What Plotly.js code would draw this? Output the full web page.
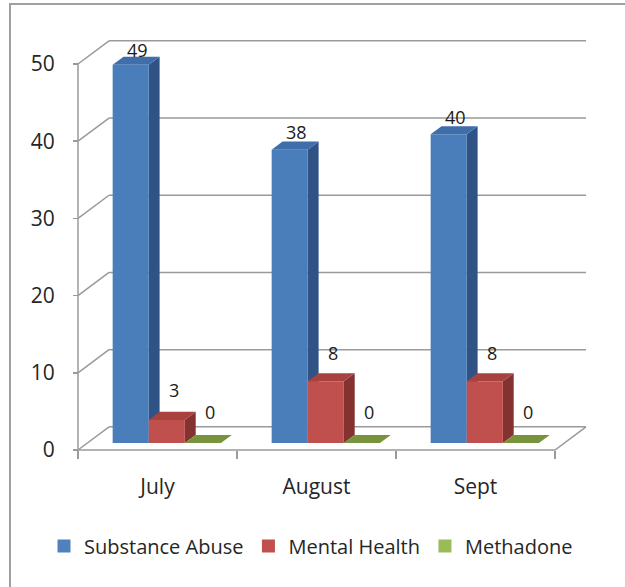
<!DOCTYPE html>
<html>
<head>
<meta charset="utf-8">
<script src="https://cdn.plot.ly/plotly-3.0.1.min.js"></script>
<style>
  html, body { margin: 0; padding: 0; background: #ffffff; }
  #wrap { position: relative; width: 625px; height: 587px; overflow: hidden; }
  #chart { position: absolute; left: 0; top: 0; width: 625px; height: 587px; }
  #frame { position: absolute; left: 9px; top: 3px; width: 700px; height: 700px;
           border: 2px solid #a0a0a0; pointer-events: none; z-index: 5; }
</style>
</head>
<body>
<div id="wrap">
  <div id="chart"></div>
  <div id="frame"></div>
</div>
<script>
// ---- data ----
const categories = ['July', 'August', 'Sept'];
const seriesNames = ['Substance Abuse', 'Mental Health', 'Methadone'];
const substanceAbuse = [49, 38, 40];
const mentalHealth = [3, 8, 8];
const methadone = [0, 0, 0];
const yTickValues = [0, 10, 20, 30, 40, 50];

// ---- styling ----
const seriesValues = [substanceAbuse, mentalHealth, methadone];
const frontColors = ['#4A7EBB', '#C0504D', '#9BBB59'];
const topColors   = ['#3F6EAB', '#A8423F', '#77933C'];
const sideColors  = ['#2F5385', '#833230', '#5E7630'];
const legendColors = ['#4F81BD', '#C0504D', '#9BBB59'];
const gridColor = '#9a9a9a';
const FONT = 'Open Sans, Noto Sans, sans-serif';

// 3D projection (oblique) parameters in data units
const DX = 0.195, DY = 3.0;          // wall depth
const D0 = 0.30, D1 = 0.65;          // bar depth span (fraction of wall depth)
const W = 0.227;                      // bar width (category units)
const GAP = (1 - 3 * W) / 2;
const nCat = categories.length;
const yMaxTick = yTickValues[yTickValues.length - 1];

function P(cx, v, d) { return [cx + d * DX, v + d * DY]; }

// pixel mapping
const PX_PER_X = 159, PX_PER_Y = 7.72;
const X0PX = 78, Y0PX = 450;
const L = 0, R = 625, T = 36, B = 453;
const xmin = -(X0PX - L) / PX_PER_X, xmax = xmin + (R - L) / PX_PER_X;
const ymin = -(B - Y0PX) / PX_PER_Y, ymax = ymin + (B - T) / PX_PER_Y;

const traces = [];
function lineTrace(pts) {
  const x = [], y = [];
  pts.forEach(p => { if (p === null) { x.push(null); y.push(null); } else { x.push(p[0]); y.push(p[1]); } });
  traces.push({ type: 'scatter', mode: 'lines', x, y, showlegend: false, hoverinfo: 'skip',
    line: { color: gridColor, width: 1.5 } });
}
// back wall gridlines
let g = [];
yTickValues.forEach(t => { g.push(P(0, t, 1), P(nCat, t, 1), null); });
lineTrace(g);
// left wall diagonals
g = [];
yTickValues.forEach(t => { g.push(P(0, t, 0), P(0, t, 1), null); });
lineTrace(g);
// floor front edge and right edge, front vertical axis
lineTrace([P(0, 0, 0), P(nCat, 0, 0), P(nCat, 0, 1), null, P(0, 0, 0), P(0, yMaxTick, 0)]);

// bars
function polyTrace(polys, color) {
  const x = [], y = [];
  polys.forEach(poly => { poly.forEach(p => { x.push(p[0]); y.push(p[1]); }); x.push(null); y.push(null); });
  traces.push({ type: 'scatter', mode: 'lines', x, y, fill: 'toself', fillcolor: color,
    line: { width: 0, color: color }, showlegend: false, hoverinfo: 'skip' });
}
const annotations = [];
for (let s = 0; s < seriesValues.length; s++) {
  const sides = [], tops = [], fronts = [];
  seriesValues[s].forEach((v, i) => {
    const x0 = i + GAP + s * W, x1 = x0 + W;
    sides.push([P(x1, 0, D0), P(x1, 0, D1), P(x1, v, D1), P(x1, v, D0)]);
    tops.push([P(x0, v, D0), P(x1, v, D0), P(x1, v, D1), P(x0, v, D1)]);
    fronts.push([P(x0, 0, D0), P(x1, 0, D0), P(x1, v, D0), P(x0, v, D0)]);
    const c = P((x0 + x1) / 2, v, (D0 + D1) / 2);
    const back = P((x0 + x1) / 2, v, D1);
    annotations.push({ x: c[0] + 0.01, y: back[1], xref: 'x', yref: 'y', text: String(v),
      showarrow: false, xanchor: 'center', yanchor: 'middle',
      yshift: 6 + 17 * (1 - v / yMaxTick),
      font: { family: FONT, size: 18, color: '#1a1a1a' } });
  });
  polyTrace(sides, sideColors[s]);
  polyTrace(tops, topColors[s]);
  polyTrace(fronts, frontColors[s]);
}
// legend entries
seriesNames.forEach((n, s) => {
  traces.push({ type: 'scatter', mode: 'markers', x: [null], y: [null], name: n,
    marker: { symbol: 'square', size: 13, color: legendColors[s] }, hoverinfo: 'skip' });
});

const catCenters = categories.map((c, i) => i + 0.5);
const layout = {
  width: 625, height: 587,
  margin: { l: L, r: 625 - R, t: T, b: 587 - B, pad: 0, autoexpand: false },
  paper_bgcolor: 'rgba(0,0,0,0)', plot_bgcolor: 'rgba(0,0,0,0)',
  hovermode: false,
  showlegend: true,
  legend: { orientation: 'h', xref: 'container', yref: 'container', x: 44 / 625, xanchor: 'left',
    y: 1 - 546 / 587, yanchor: 'middle', font: { family: FONT, size: 20, color: '#262626' },
    itemwidth: 30, traceorder: 'normal' },
  xaxis: { range: [xmin, xmax], showgrid: false, zeroline: false, showline: false,
    anchor: 'free', position: (0 - ymin) / (ymax - ymin),
    tickmode: 'array', tickvals: catCenters, ticktext: categories, ticks: '',
    ticklabelstandoff: 22,
    tickfont: { family: FONT, size: 21, color: '#262626' },
    minor: { tickmode: 'array', tickvals: [0, 1, 2, 3], ticks: 'outside', ticklen: 8,
      tickcolor: gridColor, tickwidth: 1.5, showgrid: false } },
  yaxis: { range: [ymin, ymax], showgrid: false, zeroline: false, showline: false,
    anchor: 'free', position: (0 - xmin) / (xmax - xmin),
    tickmode: 'array', tickvals: yTickValues, ticks: 'outside', ticklen: 5,
    tickcolor: gridColor, tickwidth: 1.5, ticklabelstandoff: 14,
    tickfont: { family: FONT, size: 21, color: '#262626' } },
  annotations: annotations
};
Plotly.newPlot('chart', traces, layout, { displayModeBar: false, staticPlot: true });
</script>
</body>
</html>
